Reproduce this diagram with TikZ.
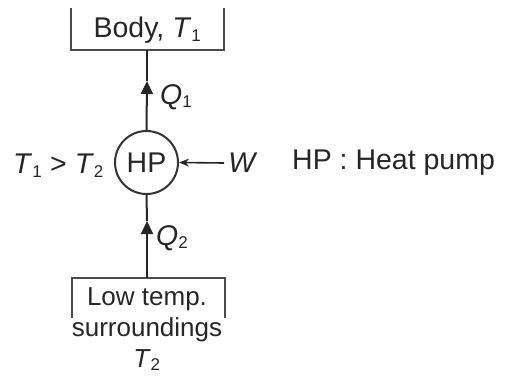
\documentclass[tikz,border=0pt]{standalone}
\usepackage{fontspec}
\setmainfont{Liberation Sans}
\usetikzlibrary{arrows.meta}
\newcommand\lsub[1]{\textsubscript{\fontsize{17}{17}\selectfont #1}}
\begin{document}
\begin{tikzpicture}[x=1pt,y=-1pt,
  lbl/.style={inner sep=0pt,font=\fontsize{28.5}{33}\selectfont,text=black!85},
  wall/.style={draw=black!70,line width=2.4pt},
  flow/.style={draw=black!85,line width=2pt},
  tip/.style={-{Triangle[length=13pt,width=12pt]}}]
\useasboundingbox (0,0) rectangle (505,378);
% top body box
\node[minimum width=153pt,minimum height=42pt,inner sep=0pt] (body) at (147.5,29) {};
\node[lbl] (bodytxt) at (147.5,30) {Body, \textit{T}\lsub{1}};
\draw[wall] (body.north west) -- (body.south west) -- (body.south east) -- (body.north east);
% heat pump
\node[circle,draw=black!80,line width=2pt,minimum size=63pt,inner sep=0pt,lbl] (hp) at (146.5,162.5) {HP};
% bottom box
\node[minimum width=153pt,minimum height=40pt,inner sep=0pt] (low) at (148.5,298) {};
\draw[wall] (low.south west) -- (low.north west) -- (low.north east) -- (low.south east);
\node[lbl,align=center,anchor=north,font=\fontsize{26}{31}\selectfont] (lowtxt) at (147,287) {Low temp.\\surroundings\\\textit{T}\lsub{2}};
% Q1
\coordinate (q1tip) at (147,81);
\draw[flow,tip] (hp.north) -- (q1tip);
\draw[flow] (q1tip) -- (body.south -| q1tip);
\node[lbl,anchor=west] (q1) at (160,97) {\textit{Q}\lsub{1}};
% Q2
\coordinate (q2tip) at (147,221);
\draw[flow,tip] (low.north -| q2tip) -- (q2tip);
\draw[flow] (q2tip) -- (hp.south);
\node[lbl,anchor=west] (q2) at (156,238) {\textit{Q}\lsub{2}};
% W
\node[lbl] (w) at (243,163) {\textit{W}};
\draw[flow,line width=1.6pt,-{Stealth[length=10pt,width=8pt]}] (w.west) ++(-4,0) coordinate (wstart) -- (hp.east);
% labels
\node[lbl,anchor=east] (cond) at (104,166) {\textit{T}\lsub{1} > \textit{T}\lsub{2}};
\node[lbl,anchor=west] (legend) at (292,163) {HP : Heat pump};
\end{tikzpicture}
\end{document}
